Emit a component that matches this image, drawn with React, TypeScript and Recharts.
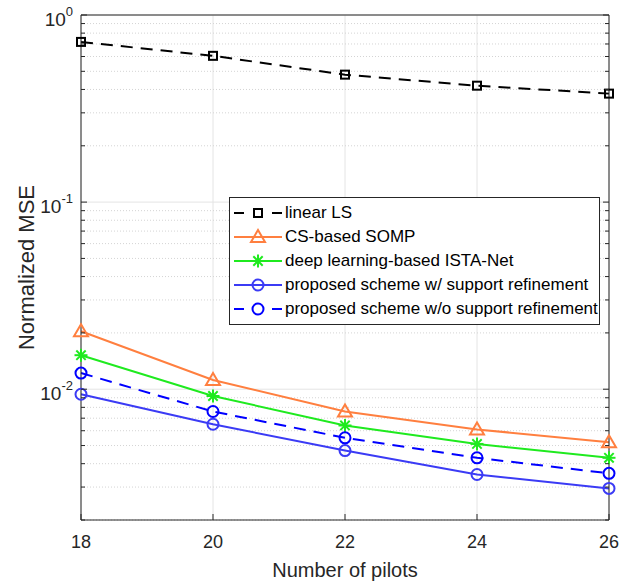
import React from "react";
import {
  LineChart,
  Line,
  XAxis,
  YAxis,
  CartesianGrid,
  ReferenceLine,
  Legend,
} from "recharts";

// values
const pilots = [18, 20, 22, 24, 26];
const linearLS = [0.718, 0.605, 0.48, 0.419, 0.38];
const cssomp = [0.0204, 0.0112, 0.0076, 0.0061, 0.0052];
const istaNet = [0.0152, 0.0092, 0.0064, 0.0051, 0.0043];
const proposedWith = [0.0094, 0.0065, 0.0047, 0.0035, 0.00295];
const proposedWithout = [0.0122, 0.0076, 0.0055, 0.0043, 0.00355];

const xTicks = [18, 20, 22, 24, 26];
const decadeStarts = [0.001, 0.01, 0.1];
const minorSteps = [2, 3, 4, 5, 6, 7, 8, 9];
const decadeTicks = [0.01, 0.1, 1];

const FONT = "'Liberation Sans', Arial, Helvetica, sans-serif";
const AXIS = "#262626";

const minorTicks: number[] = [];
decadeStarts.forEach((d) =>
  minorSteps.forEach((m) => minorTicks.push(Number((d * m).toPrecision(3))))
);
const yTicks = [...minorTicks, ...decadeTicks].sort((a, b) => a - b);

const isDecade = (v: number) =>
  Math.abs(Math.log10(v) - Math.round(Math.log10(v))) < 1e-9;

const series = [
  { key: "ls", name: "linear LS", values: linearLS, color: "#000000", dash: "12 8", marker: "square" },
  { key: "somp", name: "CS-based SOMP", values: cssomp, color: "#FF7F3F", dash: undefined, marker: "triangle" },
  { key: "ista", name: "deep learning-based ISTA-Net", values: istaNet, color: "#1FEA1F", dash: undefined, marker: "star" },
  { key: "with", name: "proposed scheme w/ support refinement", values: proposedWith, color: "#3B3BF5", dash: undefined, marker: "circle" },
  { key: "without", name: "proposed scheme w/o support refinement", values: proposedWithout, color: "#0000FF", dash: "12 8", marker: "circle" },
];

const data = pilots.map((p, i) => {
  const row: any = { pilots: p };
  series.forEach((s) => (row[s.key] = s.values[i]));
  return row;
});

function Marker({ shape, cx, cy, color }: any) {
  const sw = 2;
  if (shape === "square") {
    return <rect x={cx - 4} y={cy - 4} width={8} height={8} fill="none" stroke={color} strokeWidth={sw} />;
  }
  if (shape === "triangle") {
    return (
      <polygon
        points={`${cx},${cy - 7} ${cx - 7},${cy + 5} ${cx + 7},${cy + 5}`}
        fill="none"
        stroke={color}
        strokeWidth={sw}
      />
    );
  }
  if (shape === "star") {
    const r = 6.5;
    const d = r * 0.72;
    return (
      <g stroke={color} strokeWidth={sw}>
        <line x1={cx} x2={cx} y1={cy - r} y2={cy + r} />
        <line x1={cx - r} x2={cx + r} y1={cy} y2={cy} />
        <line x1={cx - d} x2={cx + d} y1={cy - d} y2={cy + d} />
        <line x1={cx - d} x2={cx + d} y1={cy + d} y2={cy - d} />
      </g>
    );
  }
  return <circle cx={cx} cy={cy} r={5.5} fill="none" stroke={color} strokeWidth={sw} />;
}

function YTick(props: any) {
  const { x, y, payload, side } = props;
  const v = payload.value;
  const major = isDecade(v);
  const dir = side === "left" ? 1 : -1;
  const len = major ? 6 : 4;
  return (
    <g>
      <line x1={x} x2={x + dir * len} y1={y} y2={y} stroke={AXIS} />
      {side === "left" && major && (
        <text x={x - 8} y={y + 11} textAnchor="end" fontSize={19} fill={AXIS} fontFamily={FONT}>
          <tspan>10</tspan>
          <tspan dy={-10} fontSize={13}>
            {Math.round(Math.log10(v))}
          </tspan>
        </text>
      )}
    </g>
  );
}

function XTick(props: any) {
  const { x, y, payload, side } = props;
  const dir = side === "bottom" ? -1 : 1;
  return (
    <g>
      <line x1={x} x2={x} y1={y} y2={y + dir * 6} stroke={AXIS} />
      {side === "bottom" && (
        <text x={x} y={y + 28} textAnchor="middle" fontSize={18} fill={AXIS} fontFamily={FONT}>
          {payload.value}
        </text>
      )}
    </g>
  );
}

function XTitle(props: any) {
  const { viewBox } = props;
  return (
    <text
      x={viewBox.x + viewBox.width / 2}
      y={viewBox.y + 57}
      textAnchor="middle"
      fontSize={20}
      fill={AXIS}
      fontFamily={FONT}
    >
      Number of pilots
    </text>
  );
}

function YTitle(props: any) {
  const { viewBox } = props;
  const cx = viewBox.x + 34;
  const cy = viewBox.y + viewBox.height / 2;
  return (
    <text
      x={cx}
      y={cy}
      transform={`rotate(-90 ${cx} ${cy})`}
      textAnchor="middle"
      fontSize={22}
      fill={AXIS}
      fontFamily={FONT}
    >
      Normalized MSE
    </text>
  );
}

function LegendBox() {
  return (
    <div
      style={{
        boxSizing: "border-box",
        width: 371,
        border: `1px solid ${AXIS}`,
        background: "#fff",
        padding: "3px 2px 3px 4px",
        fontFamily: FONT,
        fontSize: 17,
        color: "#000",
      }}
    >
      {series.map((s) => (
        <div key={s.key} style={{ display: "flex", alignItems: "center", height: 24, whiteSpace: "nowrap" }}>
          <svg width={48} height={20} style={{ flex: "none" }}>
            <line
              x1={0}
              x2={48}
              y1={10}
              y2={10}
              stroke={s.color}
              strokeWidth={2}
              strokeDasharray={s.dash ? "10 28" : undefined}
            />
            <Marker shape={s.marker} cx={24} cy={10} color={s.color} />
          </svg>
          <span style={{ marginLeft: 3 }}>{s.name}</span>
        </div>
      ))}
    </div>
  );
}

export default function App() {
  return (
    <div style={{ position: "absolute", left: 0, top: 0, width: 636, height: 586, background: "#fff" }}>
      <LineChart width={636} height={586} data={data} margin={{ top: 0, right: 0, bottom: 0, left: 0 }}>
        <CartesianGrid horizontal={false} stroke="#e4e4e4" />
        {yTicks.map((t) => (
          <ReferenceLine
            key={t}
            y={t}
            stroke={isDecade(t) ? "#e4e4e4" : "#d4d4d4"}
            strokeDasharray={isDecade(t) ? undefined : "1 2"}
          />
        ))}
        <XAxis
          dataKey="pilots"
          type="number"
          domain={[18, 26]}
          ticks={xTicks}
          interval={0}
          height={66}
          tickSize={0}
          tickMargin={0}
          tickLine={false}
          axisLine={{ stroke: AXIS }}
          tick={<XTick side="bottom" />}
          label={<XTitle />}
        />
        <XAxis
          xAxisId="top"
          orientation="top"
          type="number"
          domain={[18, 26]}
          ticks={xTicks}
          interval={0}
          height={15}
          tickSize={0}
          tickMargin={0}
          tickLine={false}
          axisLine={{ stroke: AXIS }}
          tick={<XTick side="top" />}
        />
        <YAxis
          scale="log"
          type="number"
          domain={[0.002, 1]}
          allowDataOverflow
          ticks={yTicks}
          interval={0}
          width={81}
          tickSize={0}
          tickMargin={0}
          tickLine={false}
          axisLine={{ stroke: AXIS }}
          tick={<YTick side="left" />}
          label={<YTitle />}
        />
        <YAxis
          yAxisId="right"
          orientation="right"
          scale="log"
          type="number"
          domain={[0.002, 1]}
          allowDataOverflow
          ticks={yTicks}
          interval={0}
          width={27}
          tickSize={0}
          tickMargin={0}
          tickLine={false}
          axisLine={{ stroke: AXIS }}
          tick={<YTick side="right" />}
        />
        <Legend
          layout="vertical"
          align="center"
          verticalAlign="middle"
          wrapperStyle={{ left: 229, top: 197, width: 371, height: "auto" }}
          content={() => <LegendBox />}
        />
        {series.map((s) => (
          <Line
            key={s.key}
            dataKey={s.key}
            name={s.name}
            type="linear"
            stroke={s.color}
            strokeWidth={2}
            strokeDasharray={s.dash}
            isAnimationActive={false}
            activeDot={false}
            dot={(p: any) => (
              <Marker key={`${s.key}-${p.index}`} shape={s.marker} cx={p.cx} cy={p.cy} color={s.color} />
            )}
          />
        ))}
      </LineChart>
    </div>
  );
}
